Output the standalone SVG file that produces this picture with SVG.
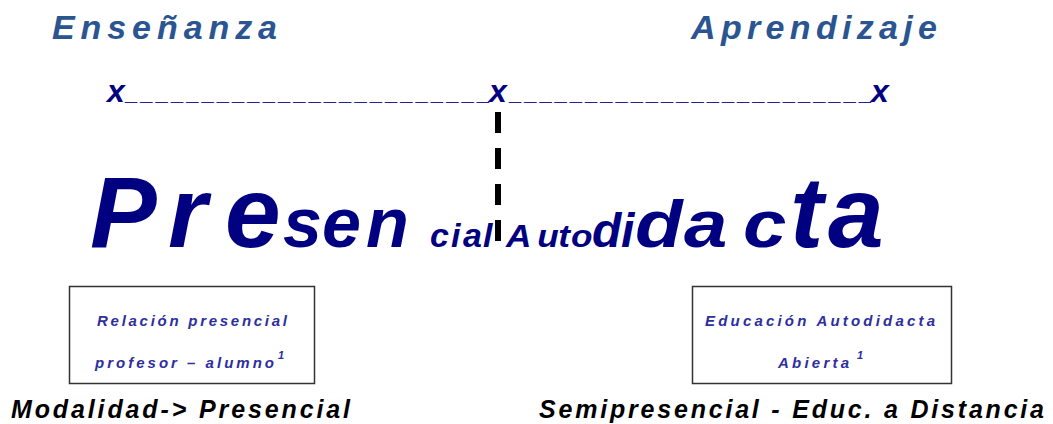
<svg xmlns="http://www.w3.org/2000/svg" width="1053" height="424" viewBox="0 0 1053 424">
<style>
.f{font-family:"Liberation Sans",Arial,sans-serif;font-weight:bold;font-style:italic}
.hd{font-size:34px;fill:#2A5590}
.ax{font-size:32px;fill:#000080}
.us{font-size:22px;fill:#2020A0}
.big{fill:#000080}
.bx{fill:#fff;stroke:#333;stroke-width:1.5}
.bt{font-size:15px;fill:#2E2E9E}
.sup{font-size:11px;fill:#2E2E9E}
.bl{font-size:25px;fill:#000}
</style>
<rect width="1053" height="424" fill="#fff"/>
<g id="headers">
<text class="f hd" x="52" y="39" textLength="225" lengthAdjust="spacing">Enseñanza</text>
<text class="f hd" x="691" y="39" textLength="246" lengthAdjust="spacing">Aprendizaje</text>
</g>
<g id="axis">
<text class="f ax" x="107" y="102">x</text>
<text class="f ax" x="489" y="102">x</text>
<text class="f ax" x="871" y="102">x</text>
<text class="f us" x="126" y="100" textLength="364" lengthAdjust="spacing">________________________</text>
<text class="f us" x="510" y="100" textLength="362" lengthAdjust="spacing">________________________</text>
</g>
<g id="connectors">
<line x1="498" y1="112" x2="498" y2="241" stroke="#000" stroke-width="6" stroke-dasharray="21 15"/>
</g>
<g id="word">
<text class="f big" y="247"><tspan x="90" font-size="100">P</tspan><tspan x="168" font-size="100">r</tspan><tspan x="225" font-size="100">e</tspan><tspan x="283" font-size="70">s</tspan><tspan x="322" font-size="70">e</tspan><tspan x="366" font-size="70">n</tspan><tspan x="430" font-size="34">c</tspan><tspan x="451" font-size="34">i</tspan><tspan x="463" font-size="34">a</tspan><tspan x="483" font-size="34">l</tspan></text>
<text class="f big" font-size="32" transform="translate(506,247) scale(1.1,1)"><tspan x="0">A</tspan><tspan x="28.5">u</tspan><tspan x="47.5">t</tspan><tspan x="59">o</tspan></text>
<text class="f big" font-size="48" y="247"><tspan x="592">d</tspan><tspan x="621">i</tspan></text>
<text class="f big" font-size="66" transform="translate(635,247) scale(1.18,1)"><tspan x="0">d</tspan><tspan x="41.5">a</tspan><tspan x="91.5">c</tspan></text>
<text class="f big" font-size="100" y="247"><tspan x="790">t</tspan><tspan x="828">a</tspan></text>
</g>
<g id="box-presencial">
<rect class="bx" x="69.5" y="286.5" width="245" height="97"/>
<text class="f bt" x="97" y="326" textLength="190" lengthAdjust="spacing">Relación presencial</text>
<text class="f bt" x="95" y="368" textLength="179" lengthAdjust="spacing">profesor – alumno</text>
<text class="f sup" x="278" y="359">1</text>
</g>
<g id="box-autodidacta">
<rect class="bx" x="692.5" y="286.5" width="259" height="97"/>
<text class="f bt" x="705" y="326" textLength="230" lengthAdjust="spacing">Educación  Autodidacta</text>
<text class="f bt" x="778" y="368" textLength="71" lengthAdjust="spacing">Abierta</text>
<text class="f sup" x="857" y="359">1</text>
</g>
<g id="labels">
<text class="f bl" x="11" y="418" textLength="339" lengthAdjust="spacing">Modalidad-&gt; Presencial</text>
<text class="f bl" x="539" y="418" textLength="505" lengthAdjust="spacing">Semipresencial  - Educ. a Distancia</text>
</g>
</svg>
